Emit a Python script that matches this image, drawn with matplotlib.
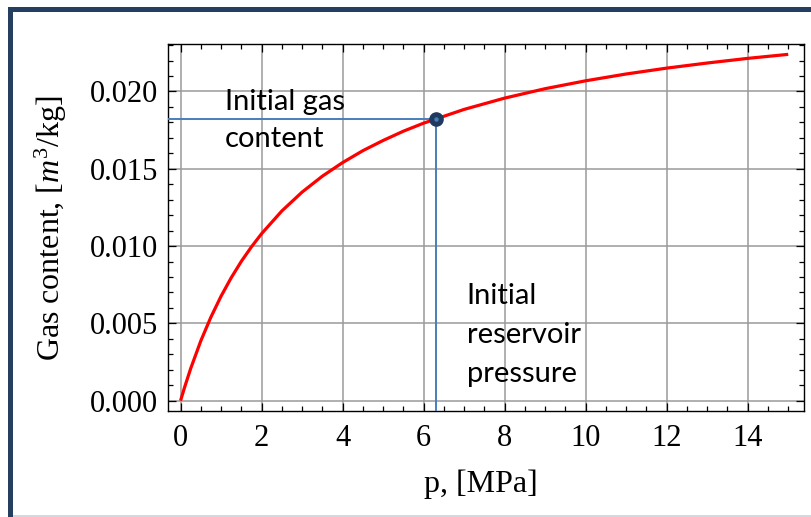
import matplotlib.pyplot as plt
from matplotlib.patches import Rectangle
from matplotlib.ticker import MultipleLocator, FormatStrFormatter

# gas content curve
pressure = [0, 0.1, 0.25, 0.5, 0.75, 1, 1.25, 1.5, 1.75, 2, 2.5, 3, 3.5, 4, 4.5,
            5, 5.5, 6, 7, 8, 9, 10, 11, 12, 13, 14, 15]
gas_content = [0, 0.00087, 0.00208, 0.00387, 0.00541, 0.00676, 0.00795, 0.00901,
               0.00995, 0.01080, 0.01227, 0.01349, 0.01452, 0.01540, 0.01617,
               0.01683, 0.01743, 0.01795, 0.01884, 0.01957, 0.02018, 0.02069,
               0.02113, 0.02151, 0.02184, 0.02214, 0.02240]

# initial reservoir state
p_init = 6.3
gas_init = 0.0182

x_ticks = [0, 2, 4, 6, 8, 10, 12, 14]
y_ticks = [0.000, 0.005, 0.010, 0.015, 0.020]

SERIF = "Liberation Serif"
plt.rcParams["font.family"] = SERIF
plt.rcParams["mathtext.fontset"] = "custom"
plt.rcParams["mathtext.rm"] = SERIF
plt.rcParams["mathtext.it"] = SERIF + ":italic"

fig = plt.figure(figsize=(8.12, 5.17), dpi=100)
ax = fig.add_axes([0.2069, 0.2050, 0.7833, 0.7099])

xlim = (-0.31, 15.39)
ylim = (-0.00067, 0.02307)
ax.set_xlim(*xlim)
ax.set_ylim(*ylim)

# grid
ax.grid(True, color="#9a9a9a", linewidth=1.1)
ax.set_axisbelow(True)

# marker lines to the initial point
ax.plot([xlim[0], p_init], [gas_init, gas_init], color="#4a7ebb", lw=1.4, zorder=3)
ax.plot([p_init, p_init], [gas_init, ylim[0]], color="#4a7ebb", lw=1.4, zorder=3)

# curve
ax.plot(pressure, gas_content, color="#ff0000", lw=2.3, zorder=4,
        solid_capstyle="butt")

# initial point
ax.plot([p_init], [gas_init], "o", ms=9.5, color="#1f3a5f", zorder=5)
ax.plot([p_init], [gas_init], "o", ms=2.2, color="#4a7ebb", zorder=6)

# labels on the plot
ann = dict(fontsize=21, family="Lato", color="black", ha="left", va="baseline")
ax.text(1.09, 0.01880, "Initial gas", **ann)
ax.text(1.09, 0.01640, "content", **ann)
ax.text(7.06, 0.006255, "Initial", **ann)
ax.text(7.06, 0.003733, "reservoir", **ann)
ax.text(7.06, 0.001210, "pressure", **ann)

# ticks
ax.set_xticks(x_ticks)
ax.set_yticks(y_ticks)
ax.xaxis.set_minor_locator(MultipleLocator(0.5))
ax.yaxis.set_minor_locator(MultipleLocator(0.001))
ax.yaxis.set_major_formatter(FormatStrFormatter("%.3f"))
ax.tick_params(which="both", direction="in", top=True, right=True,
               color="black", width=0.9)
ax.tick_params(which="major", length=6, labelsize=22)
ax.tick_params(axis="x", which="major", pad=9)
ax.tick_params(axis="y", which="major", pad=7)
ax.tick_params(which="minor", length=3.5)
for s in ax.spines.values():
    s.set_linewidth(1.0)

ax.set_xlabel("p, [MPa]", fontsize=23)
ax.set_ylabel(r"Gas content, [$m^3$/kg]", fontsize=23)
ax.xaxis.set_label_coords(0.492, -0.160)
ax.yaxis.set_label_coords(-0.156, 0.5)

# slide frame
navy = "#243f60"
fig.add_artist(Rectangle((8 / 812, 0), 5 / 812, 1 - 7 / 517,
                         transform=fig.transFigure, color=navy, lw=0))
fig.add_artist(Rectangle((8 / 812, 1 - 12 / 517), 1, 5 / 517,
                         transform=fig.transFigure, color=navy, lw=0))
fig.add_artist(Rectangle((13 / 812, 0), 1, 2 / 517,
                         transform=fig.transFigure, color="#d3d8de", lw=0))

fig.savefig("out.png", dpi=100)
